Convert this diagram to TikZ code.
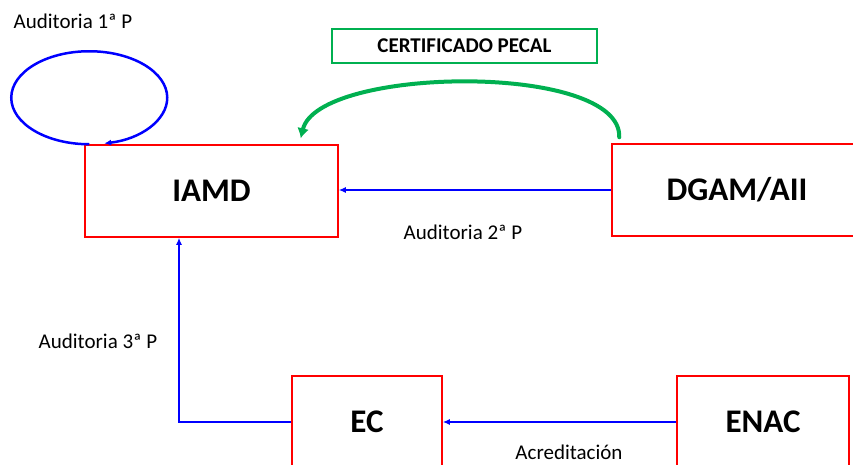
\documentclass[tikz,border=0pt]{standalone}
\usepackage{fontspec}
\setmainfont{Carlito}
\usetikzlibrary{arrows.meta}
\definecolor{verdepecal}{RGB}{0,176,80}
\tikzset{
	entidad/.style={draw=red, line width=1.5pt, inner sep=0pt, minimum height=92pt, font=\fontsize{33}{40}\selectfont\bfseries},
	flujo/.style={draw=blue, line width=2.2pt, -{Latex[length=7pt,width=6pt]}},
	etiqueta/.style={font=\fontsize{21}{25}\selectfont, inner sep=0pt, anchor=base},
}

\begin{document}
\begin{tikzpicture}[x=1pt,y=-1pt]
	\clip (0,0) rectangle (853,464);
	% entidades
	\node[entidad, minimum width=253pt] (iamd) at (211.5,191) {IAMD};
	\node[entidad, minimum width=250pt] (dgam) at (737,190) {DGAM/AII};
	\node[entidad, minimum width=150pt] (ec) at (367,422) {EC};
	\node[entidad, minimum width=172pt] (enac) at (763,422) {ENAC};
	\node[draw=verdepecal, line width=2pt, minimum width=265pt, minimum height=34pt, font=\fontsize{21}{24}\selectfont\bfseries] (pecal) at (464.5,46) {CERTIFICADO PECAL};
	% etiquetas
	\node[etiqueta] (aud1) at (73,28) {Auditoria 1ª P};
	\node[etiqueta] (aud2) at (463,239.5) {Auditoria 2ª P};
	\node[etiqueta] (aud3) at (98,348) {Auditoria 3ª P};
	\node[etiqueta] (acred) at (569,459) {Acreditación};
	% flujos
	\draw[flujo, line width=2.5pt] ([xshift=5pt]iamd.north west) arc[start angle=270, end angle=-79, x radius=78pt, y radius=46.5pt];
	\draw[flujo] (dgam.west) -- (dgam.west -| iamd.east);
	\draw[flujo] (enac.west) -- (ec.east);
	\draw[flujo] (ec.west) -| ([xshift=-32.5pt]iamd.south);
	\draw[verdepecal, line width=4pt, line cap=round, -{Latex[length=10pt,width=12pt]}] ([xshift=8pt,yshift=6pt]dgam.north west) .. controls (622,62) and (318,66) .. ([xshift=-38pt,yshift=6pt]iamd.north east);
\end{tikzpicture}
\end{document}
